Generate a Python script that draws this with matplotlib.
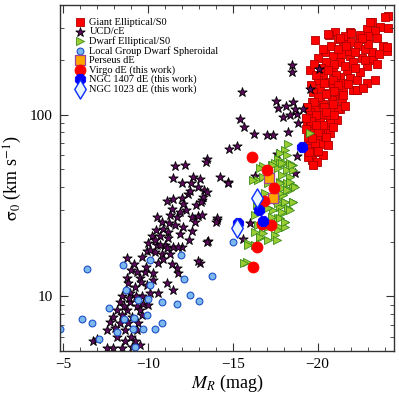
import matplotlib
matplotlib.use("Agg")
import matplotlib.pyplot as plt
import numpy as np
from matplotlib.ticker import MultipleLocator, FixedLocator, FixedFormatter, LogLocator, NullFormatter

plt.rcParams['font.family'] = ['Liberation Serif', 'DejaVu Serif']
plt.rcParams['mathtext.fontset'] = 'stix'

# ---- data: (M_R [mag], sigma_0 [km/s]) ----
giant = [
    (-23.21, 322), (-23.68, 303), (-24.15, 299), (-22.91, 295), (-23.39, 288), (-21.91, 284),
    (-21.03, 284), (-20.67, 273), (-19.85, 256), (-21.50, 244), (-22.50, 260), (-23.86, 238),
    (-24.09, 223), (-23.21, 220), (-20.44, 220), (-20.91, 209), (-21.91, 209), (-22.62, 206),
    (-23.27, 201), (-21.32, 194), (-22.09, 194), (-20.73, 189), (-22.91, 184), (-19.55, 177),
    (-20.91, 173), (-21.73, 173), (-22.50, 171), (-20.32, 166), (-21.32, 162), (-20.02, 156),
    (-20.61, 152), (-21.50, 150), (-23.39, 156), (-22.91, 150), (-20.91, 143), (-20.14, 141),
    (-21.50, 137), (-19.73, 134), (-22.21, 136), (-20.55, 132), (-21.14, 129), (-20.14, 124),
    (-20.85, 121), (-21.44, 121), (-19.67, 118), (-20.32, 114), (-19.85, 109), (-20.91, 109),
    (-21.32, 107), (-19.55, 104), (-20.26, 100), (-20.73, 97.5), (-19.73, 96.2), (-21.14, 93.8),
    (-19.37, 91.5), (-20.14, 91.5), (-20.73, 90.3), (-19.55, 85.9), (-20.14, 84.8), (-20.44, 82.6),
    (-19.73, 79.6), (-20.14, 77.6), (-20.61, 79.6), (-19.43, 74.6), (-19.96, 72.8), (-20.32, 69.2),
    (-19.55, 68.3), (-19.85, 62.5), (-20.32, 60.1), (-19.67, 56.4), (-19.96, 55.0), (-19.73, 52.9),
    (-19.43, 58.6), (-19.43, 65.8), (-19.85, 70.0), (-20.61, 277), (-22.09, 137), (-22.32, 137),
    (-21.20, 107), (-20.73, 79.6), (-20.02, 80.5), (-19.55, 90.3), (-24.09, 235), (-24.15, 348),
    (-23.98, 343), (-23.09, 322),
    (-20.3, 230), (-20.8, 240), (-21.2, 260), (-21.6, 270), (-22.0, 250), (-22.4, 240), (-22.8, 230),
    (-21.8, 225), (-21.4, 215), (-22.2, 220), (-20.5, 195), (-21.0, 190), (-21.6, 185), (-22.2, 180),
    (-22.8, 200), (-20.2, 180), (-20.6, 175), (-21.1, 165), (-21.9, 160), (-22.3, 155), (-19.9, 165),
    (-20.4, 150), (-20.9, 155), (-21.2, 145), (-21.8, 148), (-19.6, 145), (-20.0, 125), (-20.5, 130),
    (-21.0, 135), (-21.5, 128), (-19.8, 118), (-20.4, 110), (-20.9, 115), (-21.6, 112), (-19.4, 110),
    (-19.9, 100), (-20.5, 103), (-21.0, 100), (-19.6, 92), (-20.3, 88), (-20.9, 86), (-19.3, 83),
    (-19.9, 88), (-20.5, 75), (-19.7, 74), (-19.3, 96), (-20.0, 63), (-19.5, 62), (-20.6, 68),
    (-22.5, 275), (-23.0, 270), (-23.5, 265), (-22.0, 280), (-21.3, 265), (-23.6, 215), (-23.0, 245),
    (-22.6, 265), (-21.7, 240), (-20.0, 205), (-19.8, 190), (-22.7, 140), (-23.5, 190), (-21.2, 230),
]

ucd = [
    (-15.54, 134), (-17.54, 119), (-17.66, 109), (-15.42, 95), (-15.66, 86), (-16.25, 78),
    (-17.0, 77), (-17.37, 77), (-14.77, 65), (-15.25, 67), (-13.47, 57),
    (-20.08, 178), (-19.55, 139), (-19.14, 107), (-18.49, 187), (-18.49, 171), (-18.13, 111),
    (-18.55, 118), (-17.96, 97.5), (-18.37, 100), (-18.78, 101), (-18.67, 107), (-18.84, 90),
    (-18.25, 80.5),
    (-14.71, 42.6), (-16.3, 46), (-17.6, 61), (-18.78, 59), (-18.67, 48), (-16.0, 25.3),
    (-15.6, 20.7), (-13.4, 55), (-14.24, 45.5), (-13.3, 38.5), (-13.2, 34), (-14.06, 26.2),
    (-13.53, 20.1), (-13.06, 15.2),
    (-11.6, 52), (-12.2, 53), (-11.47, 45), (-12.0, 42), (-12.65, 45.5), (-13.06, 44),
    (-12.53, 42), (-12.94, 40), (-14.71, 42), (-13.47, 37.5), (-12.35, 36.6), (-13.24, 35.2),
    (-11.11, 33.5), (-11.47, 34.3), (-12.0, 34.8), (-12.06, 32.2), (-12.82, 31.8), (-13.12, 33),
    (-11.41, 30.2), (-12.24, 29.8), (-10.52, 27.3), (-11.29, 28), (-11.7, 27.3), (-12.59, 27.3),
    (-12.94, 27.6), (-13.18, 28), (-10.82, 25.6), (-11.23, 25.3), (-11.59, 24.7), (-12.06, 24.1),
    (-12.77, 25.6), (-14.06, 27), (-14.0, 25.6), (-10.46, 23.2), (-10.88, 23.5), (-11.17, 22.6),
    (-10.23, 21.5), (-10.7, 21.5), (-11.17, 20.9), (-10.0, 19.6), (-10.52, 19.1), (-11.0, 19.1),
    (-11.47, 18.8), (-12.0, 18.8), (-13.47, 19.8), (-9.93, 17.7), (-10.41, 17.5), (-10.82, 17.2),
    (-11.29, 17.2), (-9.64, 16.4),
    (-8.75, 16.2), (-10.1, 17.9), (-10.7, 19.1), (-11.1, 18.4), (-11.76, 18.6),
    (-9.34, 13.6), (-9.82, 13.6), (-10.29, 13.4), (-8.75, 12.7), (-9.52, 12.6), (-11.1, 11.9),
    (-11.76, 13.4), (-8.81, 11.8), (-9.23, 11.2), (-9.93, 11.5), (-10.58, 10.5), (-11.47, 10.8),
    (-8.46, 10.1), (-8.93, 10.4), (-9.64, 10.1), (-10.1, 10.5), (-8.34, 9.3), (-8.93, 9.3),
    (-9.34, 8.9), (-9.7, 9.1), (-8.16, 8.4), (-8.75, 8.4), (-9.52, 8.4), (-7.93, 7.7),
    (-8.46, 7.9), (-9.05, 7.7), (-9.64, 7.9), (-7.75, 7.2), (-8.34, 7.1), (-8.81, 7.1),
    (-9.4, 7.1), (-7.57, 6.5), (-8.05, 6.7), (-8.64, 6.5), (-9.34, 6.5), (-6.75, 5.7),
    (-6.98, 5.8), (-7.57, 5.2), (-7.93, 5.2), (-8.46, 5.2), (-9.05, 5.3), (-9.52, 5.4),
    (-9.23, 5.7), (-8.64, 5.7), (-11.7, 14.3), (-12.94, 15.6), (-9.2, 15.0), (-9.0, 13.9),
    (-9.9, 14.6), (-10.6, 15.2), (-9.6, 12.0), (-10.3, 12.3), (-8.9, 9.8), (-9.3, 10.0),
    (-10.9, 16.0), (-11.4, 15.0), (-10.0, 9.0), (-8.6, 8.9), (-9.0, 6.0), (-8.2, 6.0),
    (-11.9, 22.0), (-12.4, 20.5), (-12.6, 23.0), (-11.9, 29.0), (-12.5, 38.0), (-10.4, 20.5),
]

dwarf_e = [
    (-19.55, 79.6), (-18.25, 69.2), (-18.08, 64.1), (-17.78, 61.6), (-17.66, 57.1), (-17.49, 54.3),
    (-17.78, 54.3), (-18.08, 54.3), (-18.37, 54.3), (-18.55, 52.9), (-17.31, 52.9), (-17.66, 50.9),
    (-18.19, 49.7), (-18.55, 49.7), (-17.19, 47.8), (-17.9, 46.6), (-18.37, 45.4), (-17.78, 42.6),
    (-18.19, 42.1), (-17.49, 41.0), (-18.55, 41.0), (-17.9, 39.5), (-17.66, 37.6), (-17.96, 36.2),
    (-18.37, 38.5), (-17.6, 33.9), (-18.08, 33.1), (-18.55, 33.1), (-17.78, 31.0), (-18.25, 30.6),
    (-17.37, 29.9), (-17.96, 28.7), (-17.66, 26.9), (-18.08, 25.6), (-17.78, 24.1), (-18.08, 24.1),
    (-16.78, 52.2), (-17.37, 52.9), (-17.9, 54.3), (-18.49, 52.9), (-18.19, 60.1), (-16.48, 43.7),
    (-16.78, 45.4), (-17.07, 42.1), (-17.78, 42.1), (-18.37, 42.6), (-18.67, 40.0), (-16.9, 37.1),
    (-17.78, 37.1), (-18.19, 38.5), (-17.66, 32.6), (-18.08, 33.1), (-18.55, 33.1), (-16.42, 31.8),
    (-17.07, 30.6), (-17.9, 29.1), (-18.37, 29.9), (-16.31, 28.0), (-17.31, 27.3), (-17.78, 26.9),
    (-18.08, 25.6), (-16.48, 24.7), (-17.07, 24.1), (-17.66, 23.2), (-16.31, 22.6), (-16.78, 22.3),
    (-17.49, 21.7), (-16.6, 20.9), (-17.07, 20.4), (-15.89, 19.6), (-17.6, 20.4), (-16.31, 19.1),
    (-15.83, 15.4), (-15.89, 19.1), (-15.66, 15.2), (-16.6, 21.2), (-16.78, 24.1), (-16.19, 43.7),
    (-16.6, 50.9),
]

lg_dsph = [
    (-6.39, 14.1), (-8.52, 14.8), (-10.1, 15.8), (-11.94, 16.8), (-8.69, 10.8), (-10.1, 11.5),
    (-9.4, 9.5), (-9.99, 9.7), (-10.82, 9.3), (-11.7, 9.1), (-12.47, 10.2), (-7.69, 8.6),
    (-6.1, 7.5), (-6.69, 7.1), (-4.8, 6.6), (-8.58, 7.5), (-9.17, 7.6), (-9.93, 7.9),
    (-10.82, 7.1), (-8.16, 6.4), (-9.11, 6.6), (-9.7, 6.6), (-10.4, 6.6), (-7.1, 5.8),
    (-9.23, 5.3), (-12.1, 12.4), (-13.0, 9.4), (-15.0, 19.8), (-13.8, 12.9),
]

perseus = [(-17.13, 44.8), (-17.37, 34.8)]

virgo = [
    (-16.13, 58.6), (-17.0, 49.7), (-17.43, 39.5), (-16.84, 33.5), (-16.72, 25.0),
    (-17.25, 24.7), (-16.42, 18.6), (-16.19, 14.5),
]

ngc1407 = [(-16.54, 29.9), (-16.78, 26.1), (-15.3, 25.3), (-19.1, 66.5)]

ngc1023 = [(-16.42, 34.8), (-15.24, 23.7)]

series = [
    (giant, 'Giant Elliptical/S0', dict(marker='s', s=28, c='#ff0000', edgecolors='#b00000', linewidths=0.6)),
    (ucd, 'UCD/cE', dict(marker='*', s=50, c='#5c0a5c', edgecolors='black', linewidths=0.6)),
    (dwarf_e, 'Dwarf Elliptical/S0', dict(marker='>', s=34, c='#9acd32', edgecolors='#3c8c1e', linewidths=0.6)),
    (lg_dsph, 'Local Group Dwarf Spheroidal', dict(marker='o', s=24, c='#7ab8ee', edgecolors='#1f4fc8', linewidths=0.8)),
    (perseus, 'Perseus dE', dict(marker='s', s=55, c='#ffa500', edgecolors='#a0449a', linewidths=0.9)),
    (virgo, 'Virgo dE (this work)', dict(marker='o', s=62, c='#ff0000', edgecolors='#ff0000', linewidths=0.6)),
    (ngc1407, 'NGC 1407 dE (this work)', dict(marker='8', s=65, c='#0000ff', edgecolors='#0000ff', linewidths=0.6)),
    (ngc1023, 'NGC 1023 dE (this work)', dict(marker='d', s=95, c='#e8f4ff', edgecolors='#0a2cff', linewidths=1.0)),
]

fig = plt.figure(figsize=(3.99, 3.99), dpi=100)
ax = fig.add_axes([0.150, 0.120, 0.837, 0.867])

for pts, label, kw in series:
    arr = np.array(pts)
    ax.scatter(arr[:, 0], arr[:, 1], label=label, **kw)

ax.set_yscale('log')
ax.set_xlim(-4.8, -24.5)
ax.set_ylim(5, 400)

ax.xaxis.set_major_locator(MultipleLocator(5))
ax.xaxis.set_minor_locator(MultipleLocator(1))
ax.yaxis.set_major_locator(FixedLocator([10, 100]))
ax.yaxis.set_major_formatter(FixedFormatter(['10', '100']))
ax.yaxis.set_minor_locator(LogLocator(base=10, subs=np.arange(2, 10)))
ax.yaxis.set_minor_formatter(NullFormatter())

ax.tick_params(which='both', direction='in', top=True, right=True, labelsize=11, color='#333333')
ax.tick_params(which='major', length=6, width=0.8, pad=5)
ax.tick_params(which='minor', length=3, width=0.6)
for sp in ax.spines.values():
    sp.set_color('#333333')
    sp.set_linewidth(1.0)

ax.set_xlabel(r'$M_R$ (mag)', fontsize=13, labelpad=1)
ax.set_ylabel(r'$\mathrm{\sigma}_0$ (km s$^{-1}$)', fontsize=13, labelpad=4)

ax.legend(loc='upper left', bbox_to_anchor=(0.02, 0.985), frameon=False, fontsize=7.5,
          labelspacing=0.0, handletextpad=0.3, borderpad=0.2, handlelength=1.2,
          scatterpoints=1)

fig.savefig('out.png', dpi=100)
